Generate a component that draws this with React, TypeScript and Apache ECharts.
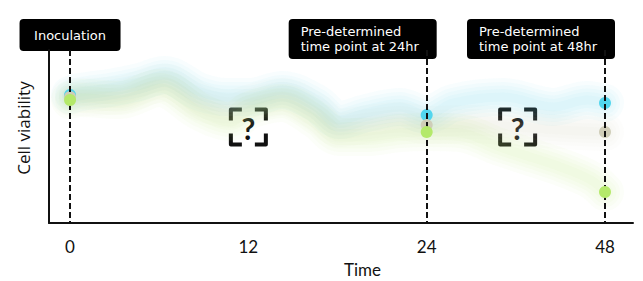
import React, { useEffect, useRef } from 'react';
import * as echarts from 'echarts';

// Time axis: evenly spaced checkpoints (positions 0..3 on the axis)
const timeLabels = ['0', '12', '24', '48'];

// Checkpoints where viability is sampled (axis positions) and their callouts
const checkpointPos = [0, 2, 3];
const checkpointTitles = [
  ['Inoculation'],
  ['Pre-determined', 'time point at 24hr'],
  ['Pre-determined', 'time point at 48hr'],
];

// Measured viability at each checkpoint
const cyanPoints = [74.0, 62.4, 69.4];
const greyPoints = [72.8, 56.6, 52.6];
const greenPoints = [71.1, 52.6, 17.9];

// Unobserved trajectories between the checkpoints: [axis position, viability]
const cyanTrend = [
  [0, 74.0], [0.06, 75.7], [0.22, 78.0], [0.39, 81.5], [0.53, 85.5], [0.73, 75.7],
  [0.88, 72.8], [1.01, 72.8], [1.19, 76.9], [1.38, 69.4], [1.51, 59.5], [1.66, 63.6],
  [1.85, 67.1], [2.0, 62.4], [2.15, 69.4], [2.43, 72.8], [2.71, 67.1], [2.9, 71.1], [3.0, 69.4],
];
const greyTrend = [
  [0, 72.8], [0.28, 74.0], [0.53, 81.0], [0.73, 70.0], [0.9, 66.0], [1.0, 69.0],
  [1.19, 73.0], [1.38, 64.0], [1.51, 55.0], [1.66, 57.0], [1.85, 59.0], [2.0, 56.6],
  [2.25, 57.2], [2.5, 55.5], [2.75, 53.8], [3.0, 52.6],
];
const greenTrend = [
  [0, 71.1], [0.06, 72.3], [0.28, 71.1], [0.5, 78.0], [0.73, 64.2], [0.9, 58.4],
  [1.01, 65.3], [1.19, 69.4], [1.38, 59.5], [1.51, 49.7], [1.66, 49.7], [1.85, 52.0],
  [2.0, 52.6], [2.19, 52.0], [2.41, 43.9], [2.58, 38.2], [2.75, 32.4], [2.92, 24.9], [3.0, 17.9],
];

// Where the "unknown" markers sit: [axis position, viability]
const unknownMarkers = [
  [1.0, 55.5],
  [2.51, 55.5],
];

const COLORS = { cyan: '#52d6ee', grey: '#cfcdb8', green: '#b4e96a' };
const INK = '#111111';
const AXIS_FONT = 'Lato, "Noto Sans", sans-serif';
const NAME_FONT = '"Open Sans", "Noto Sans", sans-serif';
const BOX_FONT = '"DejaVu Sans", "Noto Sans", sans-serif';

// Soft haze: the same trend drawn several times with decreasing width
function hazeSeries(data: number[][], color: string): any[] {
  const widths = [38, 30, 23, 16, 9];
  return widths.map((w) => ({
    type: 'line',
    data,
    smooth: 0.35,
    symbol: 'none',
    silent: true,
    z: 1,
    lineStyle: { width: w, color, opacity: 0.045, cap: 'round', join: 'round' },
  }));
}

function dotSeries(values: number[], color: string, z: number) {
  return {
    type: 'scatter',
    data: checkpointPos.map((p, i) => [p, values[i]]),
    symbolSize: 12,
    itemStyle: { color, opacity: 1 },
    z,
  };
}

export default function App() {
  const ref = useRef<HTMLDivElement>(null);

  useEffect(() => {
    if (!ref.current) return;
    const chart = echarts.init(ref.current, undefined, { renderer: 'svg' });

    const option: any = {
      animation: false,
      grid: { left: 49, right: 10, top: 50, bottom: 58, outerBoundsMode: 'none', containLabel: false },
      xAxis: {
        type: 'value',
        min: -0.118,
        max: 3.157,
        axisLine: { show: true, onZero: false, lineStyle: { color: INK, width: 2 } },
        axisTick: { show: false },
        splitLine: { show: false },
        axisLabel: {
          customValues: timeLabels.map((_, i) => i),
          formatter: (v: number) => timeLabels[Math.round(v)] ?? '',
          fontFamily: AXIS_FONT,
          fontSize: 17,
          color: INK,
          margin: 15,
        },
      },
      yAxis: {
        type: 'value',
        min: 0,
        max: 100,
        name: 'Cell viability',
        nameLocation: 'middle',
        nameGap: 17,
        nameMoveOverlap: false,
        nameTextStyle: { fontFamily: NAME_FONT, fontSize: 17, color: INK, padding: [0, 0, 0, 17] },
        axisLine: { show: true, onZero: false, lineStyle: { color: INK, width: 2 } },
        axisTick: { show: false },
        axisLabel: { show: false },
        splitLine: { show: false },
      },
      series: [
        ...hazeSeries(greyTrend, COLORS.grey),
        ...hazeSeries(cyanTrend, COLORS.cyan),
        ...hazeSeries(greenTrend, COLORS.green),
        {
          type: 'line',
          data: [],
          z: 2,
          silent: true,
          markLine: {
            silent: true,
            symbol: ['none', 'none'],
            label: { show: false },
            lineStyle: { color: INK, width: 2, type: [6, 3] },
            data: checkpointPos.map((p) => [{ coord: [p, 100] }, { coord: [p, 0] }]),
          },
        },
        dotSeries(cyanPoints, COLORS.cyan, 3),
        dotSeries(greyPoints, COLORS.grey, 4),
        dotSeries(greenPoints, COLORS.green, 5),
      ],
    };
    chart.setOption(option);

    const px = (u: number, v: number) =>
      chart.convertToPixel({ gridIndex: 0 }, [u, v]) as number[];

    const graphics: any[] = [];

    // x-axis title, set a little right of the axis centre, below the tick labels
    const axisBottom = px(0, 0)[1];
    graphics.push({
      type: 'text',
      x: px(1.64, 0)[0],
      y: axisBottom + 46,
      style: {
        text: 'Time',
        fill: INK,
        font: `17px ${AXIS_FONT}`,
        align: 'center',
        verticalAlign: 'middle',
      },
    });

    // Callout boxes above each checkpoint
    checkpointTitles.forEach((lines, i) => {
      const lineX = px(checkpointPos[i], 0)[0];
      const twoLine = lines.length > 1;
      const w = twoLine ? 148 : 101;
      const h = twoLine ? 40 : 32;
      const left = twoLine ? lineX + 10 - w : lineX - w / 2;
      const top = 19;
      const rowGap = 15.5;
      const firstY = top + h / 2 - ((lines.length - 1) * rowGap) / 2;
      graphics.push({
        type: 'group',
        z: 10,
        children: [
          {
            type: 'rect',
            shape: { x: left, y: top, width: w, height: h, r: 4 },
            style: { fill: '#000' },
          },
          ...lines.map((line, k) => ({
            type: 'text',
            x: twoLine ? left + 12 : left + w / 2,
            y: firstY + k * rowGap,
            style: {
              text: line,
              fill: '#fff',
              font: `13px ${BOX_FONT}`,
              align: twoLine ? 'left' : 'center',
              verticalAlign: 'middle',
            },
          })),
        ],
      });
    });

    // "[?]" markers for the unobserved stretches
    const half = 19.5;
    const arm = 11;
    const ins = 2;
    const a = -half + ins;
    const b = half - ins;
    const corner = (pts: number[][]) => ({
      type: 'polyline',
      shape: { points: pts },
      style: { stroke: INK, lineWidth: 4, fill: null, lineJoin: 'round' },
    });
    unknownMarkers.forEach(([u, v]) => {
      const [cx, cy] = px(u, v);
      graphics.push({
        type: 'group',
        x: cx,
        y: cy,
        z: 10,
        children: [
          corner([[a, a + arm], [a, a], [a + arm, a]]),
          corner([[b - arm, a], [b, a], [b, a + arm]]),
          corner([[a, b - arm], [a, b], [a + arm, b]]),
          corner([[b - arm, b], [b, b], [b, b - arm]]),
          {
            type: 'text',
            x: 0,
            y: 1,
            style: {
              text: '?',
              fill: INK,
              font: `bold 30px ${AXIS_FONT}`,
              align: 'center',
              verticalAlign: 'middle',
            },
          },
        ],
      });
    });

    chart.setOption({ graphic: graphics });

    return () => chart.dispose();
  }, []);

  return (
    <div
      ref={ref}
      style={{ position: 'fixed', left: 0, top: 0, width: 643, height: 281, background: '#fff' }}
    />
  );
}
